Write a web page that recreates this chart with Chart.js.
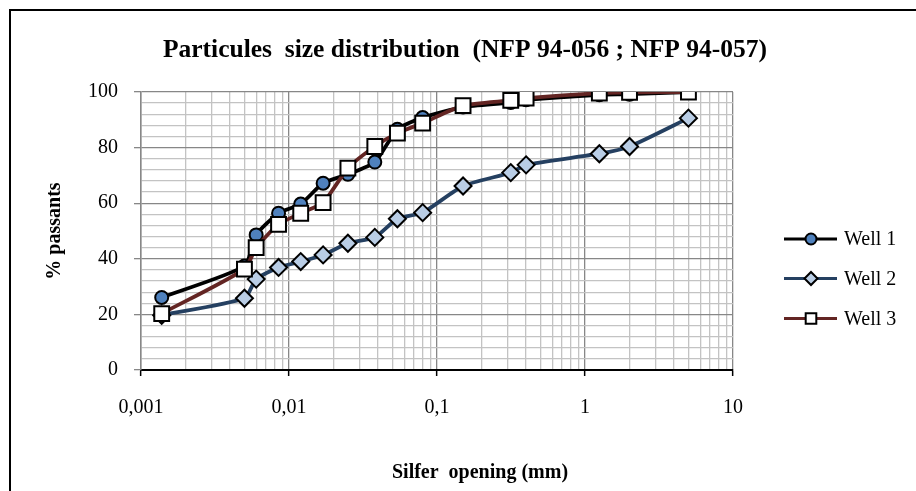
<!DOCTYPE html>
<html>
<head>
<meta charset="utf-8">
<script src="https://cdn.jsdelivr.net/npm/chart.js@4.4.0/dist/chart.umd.min.js"></script>
<style>
  html, body { margin: 0; padding: 0; background: #fff; }
</style>
</head>
<body>
<canvas id="sizeChart" width="916" height="491"></canvas>
<script>
// sieve / sedimentometry openings (mm), shared by the three wells
var sieveSizes = [0.00138, 0.005, 0.006, 0.0085, 0.012, 0.017, 0.025, 0.038, 0.054, 0.08, 0.15, 0.315, 0.4, 1.25, 2, 5];
var well1 = [26.1, 37.4, 48.6, 56.4, 59.7, 67.2, 70.4, 74.8, 86.6, 90.8, 94.6, 96.2, 97.2, 99.0, 99.2, 100];
var well2 = [19.7, 25.8, 32.7, 36.9, 39.0, 41.4, 45.6, 47.7, 54.4, 56.6, 66.2, 71.0, 73.8, 77.8, 80.4, 90.6];
var well3 = [20.3, 36.3, 44.0, 52.4, 56.4, 60.2, 72.6, 80.4, 85.2, 88.8, 95.1, 97.0, 97.8, 99.6, 99.9, 100];
var seriesNames = ['Well 1', 'Well 2', 'Well 3'];
var xDecades = [0.001, 0.01, 0.1, 1, 10];
var xTickLabels = ['0,001', '0,01', '0,1', '1', '10'];
var yTickLabels = [0, 20, 40, 60, 80, 100];

var chartTitle = 'Particules  size distribution  (NFP 94-056 ; NFP 94-057)';
var xTitle = 'Silfer  opening (mm)';
var yTitle = '% passants';

var serif = '"Liberation Serif", "Times New Roman", serif';
var majorGrid = '#878787';
var minorGrid = '#c3c3c3';

function toPoints(values) {
    return sieveSizes.map(function (s, i) { return { x: s, y: values[i] }; });
}

function isDecade(v) {
    var l = Math.log10(v);
    return Math.abs(l - Math.round(l)) < 1e-9;
}

var styles = [
    { line: '#000000', fill: '#4f81bd', pointStyle: 'circle', radius: 6.5, legendRadius: 5.5 },
    { line: '#254061', fill: '#b9cde5', pointStyle: 'rectRot', radius: 8.5, legendRadius: 6.5 },
    { line: '#632523', fill: '#ffffff', pointStyle: 'rect', radius: 10.5, legendRadius: 7.5 }
];

var wells = [well1, well2, well3];

var datasets = wells.map(function (w, i) {
    var st = styles[i];
    return {
        label: seriesNames[i],
        data: toPoints(w),
        borderColor: st.line,
        borderWidth: 3.8,
        tension: 0.2,
        pointStyle: st.pointStyle,
        pointRadius: st.radius,
        pointHoverRadius: st.radius,
        pointBackgroundColor: st.fill,
        pointBorderColor: '#000000',
        pointBorderWidth: 2,
        order: 3 - i
    };
});

function drawMarker(ctx, style, x, y, r) {
    ctx.beginPath();
    if (style === 'circle') {
        ctx.arc(x, y, r, 0, Math.PI * 2);
    } else if (style === 'rectRot') {
        ctx.moveTo(x - r, y); ctx.lineTo(x, y - r); ctx.lineTo(x + r, y); ctx.lineTo(x, y + r);
        ctx.closePath();
    } else {
        var h = r * Math.SQRT1_2;
        ctx.rect(x - h, y - h, 2 * h, 2 * h);
    }
    ctx.fill();
    ctx.stroke();
}

var framePlugin = {
    id: 'frame',
    beforeDraw: function (chart) {
        var ctx = chart.ctx;
        ctx.save();
        ctx.fillStyle = '#ffffff';
        ctx.fillRect(0, 0, chart.width, chart.height);
        ctx.restore();
    },
    afterDraw: function (chart) {
        var ctx = chart.ctx;
        ctx.save();
        // outer frame (left and top edges visible)
        ctx.strokeStyle = '#000';
        ctx.lineWidth = 2;
        ctx.beginPath();
        ctx.moveTo(10, chart.height);
        ctx.lineTo(10, 10);
        ctx.lineTo(chart.width, 10);
        ctx.stroke();

        ctx.fillStyle = '#000';
        ctx.textAlign = 'center';
        ctx.textBaseline = 'middle';
        ctx.font = 'bold 25.5px ' + serif;
        ctx.fillText(chartTitle, 465, 50);
        ctx.font = 'bold 20px ' + serif;
        ctx.fillText(xTitle, 480, 473);

        // legend
        var legendY = [239, 278.5, 318.5];
        chart.data.datasets.forEach(function (ds, i) {
            var y = legendY[i];
            var st = styles[i];
            ctx.strokeStyle = ds.borderColor;
            ctx.lineWidth = 3;
            ctx.beginPath();
            ctx.moveTo(784, y);
            ctx.lineTo(837, y);
            ctx.stroke();
            ctx.fillStyle = st.fill;
            ctx.strokeStyle = '#000';
            ctx.lineWidth = 2;
            drawMarker(ctx, st.pointStyle, 811, y, st.legendRadius);
            ctx.fillStyle = '#000';
            ctx.textAlign = 'left';
            ctx.font = '20px ' + serif;
            ctx.fillText(ds.label, 844, y + 1);
        });
        ctx.restore();
    }
};

var ctx = document.getElementById('sizeChart').getContext('2d');
var sizeChart = new Chart(ctx, {
    type: 'line',
    data: { datasets: datasets },
    plugins: [framePlugin],
    options: {
        responsive: false,
        animation: false,
        events: [],
        layout: { padding: { left: 0, top: 92, right: 183, bottom: 0 } },
        plugins: {
            legend: { display: false },
            title: { display: false },
            tooltip: { enabled: false }
        },
        scales: {
            x: {
                type: 'logarithmic',
                min: 0.001,
                max: 10,
                afterBuildTicks: function (scale) {
                    var ticks = [];
                    for (var d = 0; d < xDecades.length - 1; d++) {
                        for (var k = 1; k < 10; k++) {
                            ticks.push({ value: +(xDecades[d] * k).toPrecision(6) });
                        }
                    }
                    ticks.push({ value: xDecades[xDecades.length - 1] });
                    scale.ticks = ticks;
                },
                afterFit: function (scale) { scale.height = 121; },
                ticks: {
                    autoSkip: false,
                    maxRotation: 0,
                    padding: 20,
                    color: '#000',
                    font: { family: serif, size: 20 },
                    callback: function (value) {
                        var idx = xDecades.findIndex(function (d) { return Math.abs(d - value) < d * 1e-6; });
                        return idx >= 0 ? xTickLabels[idx] : '';
                    }
                },
                grid: {
                    tickLength: 6,
                    color: function (c) { return c.tick && isDecade(c.tick.value) ? majorGrid : minorGrid; },
                    tickColor: function (c) { return c.tick && isDecade(c.tick.value) ? '#000' : 'rgba(0,0,0,0)'; },
                    tickWidth: 1.5,
                    lineWidth: 1.3
                },
                border: { color: '#000', width: 2 }
            },
            y: {
                min: 0,
                max: 100,
                afterFit: function (scale) { scale.width = 141; },
                ticks: {
                    stepSize: 4,
                    autoSkip: false,
                    padding: 16,
                    color: '#000',
                    font: { family: serif, size: 20 },
                    callback: function (value) {
                        return yTickLabels.indexOf(value) >= 0 ? String(value) : '';
                    }
                },
                grid: {
                    tickLength: 7,
                    color: function (c) { return c.tick && c.tick.value % 20 === 0 ? majorGrid : minorGrid; },
                    tickColor: function (c) { return c.tick && c.tick.value % 20 === 0 ? majorGrid : 'rgba(0,0,0,0)'; },
                    lineWidth: 1.3
                },
                border: { color: majorGrid, width: 1.5 },
                title: {
                    display: true,
                    text: yTitle,
                    color: '#000',
                    font: { family: serif, size: 20, weight: 'bold' },
                    padding: { top: 43, bottom: 0 }
                }
            }
        }
    }
});
</script>
</body>
</html>
